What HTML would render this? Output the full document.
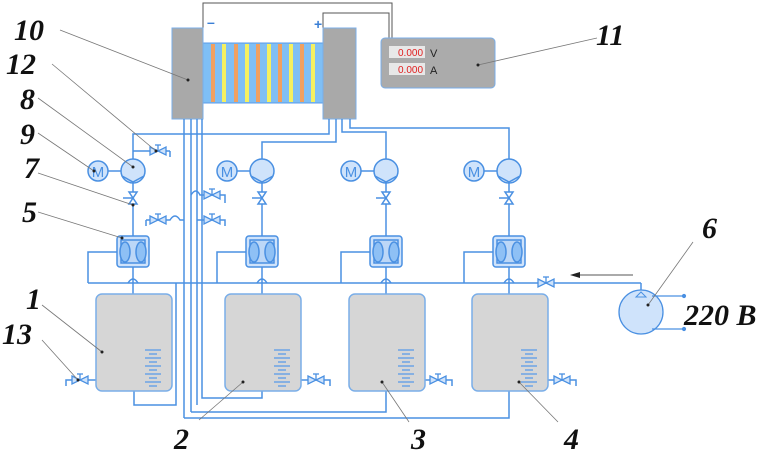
<!DOCTYPE html>
<html><head><meta charset="utf-8"><style>
html,body{margin:0;padding:0;background:#fff;width:763px;height:454px;overflow:hidden}
text.l{font-family:"Liberation Serif",serif;font-weight:bold;font-style:italic;font-size:30px;fill:#111}
</style></head><body>
<svg width="763" height="454" viewBox="0 0 763 454" xmlns="http://www.w3.org/2000/svg">
<defs>
<g id="unit" fill="none" stroke="#4a90e2" stroke-width="1.5">
  <line x1="0" y1="183" x2="0" y2="237"/>
  <circle cx="0" cy="171" r="12" fill="#cfe3fb"/>
  <path d="M-11,176 L0,182 L11,176" />
  <line x1="-12" y1="171" x2="-26" y2="171"/>
  <circle cx="-35" cy="171" r="10" fill="#cfe3fb"/>
  <text x="-35" y="177" font-family="Liberation Sans,sans-serif" font-size="15" fill="#4a90e2" stroke="none" text-anchor="middle">M</text>
  <path d="M-4,192 L4,192 L-4,204 L4,204 Z" fill="#fff"/>
  <line x1="-10" y1="198" x2="0" y2="198"/>
  <rect x="-16" y="236" width="32" height="31" rx="3" fill="#cfe3fb"/>
  <rect x="-12" y="240" width="24" height="23" fill="#bcd7f7"/>
  <ellipse cx="-8" cy="252" rx="5" ry="10" fill="#8ec0f5"/>
  <ellipse cx="8" cy="252" rx="5" ry="10" fill="#8ec0f5"/>
  <line x1="0" y1="267" x2="0" y2="294"/>
  <path d="M-16,252 L-45,252 L-45,283"/>
  <path d="M-5,283 Q0,275 5,283"/>
  <rect x="-37" y="294" width="76" height="97" rx="6" fill="#d6d6d6" stroke="#7aaee8"/>
  <g stroke="#5a9be8" stroke-width="1.3">
    <line x1="12" y1="350" x2="28" y2="350"/><line x1="16" y1="354" x2="24" y2="354"/>
    <line x1="12" y1="358" x2="28" y2="358"/><line x1="16" y1="362" x2="24" y2="362"/>
    <line x1="12" y1="366" x2="28" y2="366"/><line x1="16" y1="370" x2="24" y2="370"/>
    <line x1="12" y1="374" x2="28" y2="374"/><line x1="16" y1="378" x2="24" y2="378"/>
    <line x1="12" y1="382" x2="28" y2="382"/><line x1="16" y1="386" x2="24" y2="386"/>
  </g>
</g>
<g id="valve" fill="#cfe3fb" stroke="#4a90e2" stroke-width="1.3">
  <path d="M-8,-4 L8,4 L8,-4 L-8,4 Z"/>
  <line x1="0" y1="0" x2="0" y2="-6"/><line x1="-3" y1="-6" x2="3" y2="-6"/>
</g>
</defs>

<g fill="none" stroke="#555" stroke-width="1">
  <path d="M203,28 L203,3 L392,3 L392,38"/>
  <path d="M323,28 L323,13 L389,13 L389,38"/>
</g>

<rect x="203" y="43" width="120" height="60" fill="#7fbff5" stroke="#5a9be8"/>
<g stroke-width="4">
  <line x1="213" y1="44" x2="213" y2="102" stroke="#f0a060"/>
  <line x1="224" y1="44" x2="224" y2="102" stroke="#f5f060"/>
  <line x1="236" y1="44" x2="236" y2="102" stroke="#f0a060"/>
  <line x1="247" y1="44" x2="247" y2="102" stroke="#f5f060"/>
  <line x1="258" y1="44" x2="258" y2="102" stroke="#f0a060"/>
  <line x1="269" y1="44" x2="269" y2="102" stroke="#f5f060"/>
  <line x1="280" y1="44" x2="280" y2="102" stroke="#f0a060"/>
  <line x1="291" y1="44" x2="291" y2="102" stroke="#f5f060"/>
  <line x1="302" y1="44" x2="302" y2="102" stroke="#f0a060"/>
  <line x1="313" y1="44" x2="313" y2="102" stroke="#f5f060"/>
</g>
<rect x="172" y="28" width="31" height="91" fill="#a9a9a9" stroke="#7aaee8"/>
<rect x="323" y="28" width="33" height="91" fill="#a9a9a9" stroke="#7aaee8"/>
<text x="207" y="27" font-family="Liberation Sans,sans-serif" font-weight="bold" font-size="14" fill="#3b7fd6">–</text>
<text x="314" y="29" font-family="Liberation Sans,sans-serif" font-weight="bold" font-size="14" fill="#3b7fd6">+</text>

<rect x="381" y="38" width="114" height="50" rx="4" fill="#ababab" stroke="#7aaee8"/>
<rect x="389" y="46" width="36" height="12" fill="#e8e8e8"/>
<rect x="389" y="63" width="36" height="12" fill="#e8e8e8"/>
<text x="398" y="56" font-family="Liberation Sans,sans-serif" font-size="10" fill="#e02020">0.000</text>
<text x="398" y="73" font-family="Liberation Sans,sans-serif" font-size="10" fill="#e02020">0.000</text>
<text x="430" y="57" font-family="Liberation Sans,sans-serif" font-size="11" fill="#222">V</text>
<text x="430" y="74" font-family="Liberation Sans,sans-serif" font-size="11" fill="#222">A</text>

<g fill="none" stroke="#4a90e2" stroke-width="1.5">
  <path d="M329,119 L329,134 L133,134 L133,159"/>
  <path d="M336,119 L336,142 L262,142 L262,159"/>
  <path d="M342,119 L342,132 L386,132 L386,159"/>
  <path d="M350,119 L350,128 L509,128 L509,159"/>
  <line x1="184" y1="119" x2="184" y2="418"/>
  <line x1="191" y1="119" x2="191" y2="412"/>
  <line x1="197" y1="119" x2="197" y2="405"/>
  <line x1="202" y1="119" x2="202" y2="283"/>
  <line x1="88" y1="283" x2="641" y2="283"/>
  <path d="M641,283 L641,292"/>
  <path d="M134,391 L134,405 L176,405 L176,283"/>
  <path d="M262,391 L262,398 L202,398 L202,283"/>
  <path d="M386,391 L386,412 L191,412"/>
  <path d="M509,391 L509,418 L184,418"/>
  <path d="M96,380 L66,380 L66,386"/>
  <path d="M301,380 L330,380 L330,386"/>
  <path d="M424,380 L452,380 L452,386"/>
  <path d="M547,380 L576,380 L576,386"/>
  <path d="M133,151 L148,151 M170,151 L170,157 M148,151 L170,151"/>
  <path d="M146,220 L146,226 M146,220 L170,220 Q175,212 180,220 L184,220"/>
  <path d="M191,195 Q196,187 200,195 L225,195 L225,203"/>
  <path d="M197,220 L225,220 L225,226"/>
</g>
<use href="#valve" x="158" y="151"/>
<use href="#valve" x="158" y="220"/>
<use href="#valve" x="212" y="195"/>
<use href="#valve" x="212" y="220"/>
<use href="#valve" x="80" y="380"/>
<use href="#valve" x="316" y="380"/>
<use href="#valve" x="438" y="380"/>
<use href="#valve" x="562" y="380"/>
<use href="#valve" x="546" y="283"/>

<use href="#unit" x="133" y="0"/>
<use href="#unit" x="262" y="0"/>
<use href="#unit" x="386" y="0"/>
<use href="#unit" x="509" y="0"/>

<circle cx="641" cy="312" r="22" fill="#cfe3fb" stroke="#4a90e2" stroke-width="1.3"/>
<path d="M636,297 L641,292 L646,297 Z" fill="#cfe3fb" stroke="#4a90e2"/>
<g stroke="#4a90e2" stroke-width="1.2" fill="#4a90e2">
  <line x1="652" y1="296" x2="683" y2="296"/><circle cx="684" cy="296" r="1.5"/>
  <line x1="652" y1="329" x2="683" y2="329"/><circle cx="684" cy="329" r="1.5"/>
</g>
<line x1="633" y1="275" x2="575" y2="275" stroke="#555" stroke-width="1"/>
<path d="M570,275 L580,272 L580,278 Z" fill="#222"/>

<g stroke="#777" stroke-width="0.8">
  <line x1="60" y1="30" x2="188" y2="80"/>
  <line x1="52" y1="64" x2="156" y2="151"/>
  <line x1="38" y1="98" x2="133" y2="167"/>
  <line x1="38" y1="133" x2="94" y2="171"/>
  <line x1="38" y1="173" x2="133" y2="205"/>
  <line x1="38" y1="212" x2="122" y2="238"/>
  <line x1="42" y1="305" x2="102" y2="352"/>
  <line x1="42" y1="340" x2="78" y2="380"/>
  <line x1="597" y1="38" x2="478" y2="65"/>
  <line x1="693" y1="242" x2="648" y2="305"/>
  <line x1="199" y1="420" x2="243" y2="382"/>
  <line x1="409" y1="422" x2="382" y2="382"/>
  <line x1="558" y1="422" x2="519" y2="382"/>
</g>
<g fill="#222">
  <circle cx="188" cy="80" r="1.5"/><circle cx="156" cy="151" r="1.5"/><circle cx="133" cy="167" r="1.5"/>
  <circle cx="94" cy="171" r="1.5"/><circle cx="133" cy="205" r="1.5"/><circle cx="122" cy="238" r="1.5"/>
  <circle cx="102" cy="352" r="1.5"/><circle cx="78" cy="380" r="1.5"/><circle cx="478" cy="65" r="1.5"/>
  <circle cx="648" cy="305" r="1.5"/><circle cx="243" cy="382" r="1.5"/><circle cx="382" cy="382" r="1.5"/><circle cx="519" cy="382" r="1.5"/>
</g>

<text class="l" x="14" y="40">10</text>
<text class="l" x="6" y="74">12</text>
<text class="l" x="20" y="109">8</text>
<text class="l" x="20" y="144">9</text>
<text class="l" x="24" y="178">7</text>
<text class="l" x="22" y="222">5</text>
<text class="l" x="26" y="309">1</text>
<text class="l" x="2" y="344">13</text>
<text class="l" x="596" y="45">11</text>
<text class="l" x="702" y="238">6</text>
<text class="l" x="684" y="325">220 B</text>
<text class="l" x="174" y="449">2</text>
<text class="l" x="411" y="449">3</text>
<text class="l" x="564" y="449">4</text>
</svg>
</body></html>
